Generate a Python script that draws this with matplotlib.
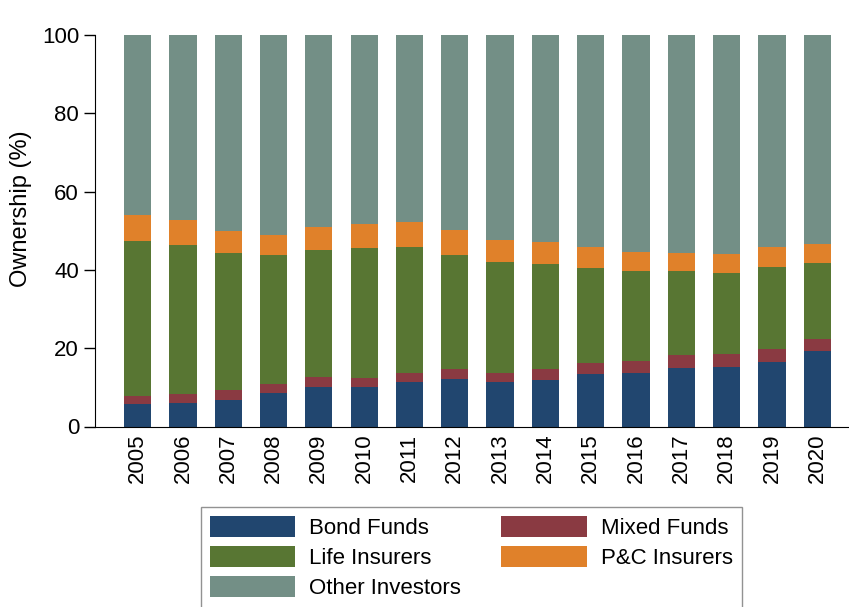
import numpy as np
import matplotlib.pyplot as plt

plt.rcParams['font.family'] = ['Liberation Sans', 'DejaVu Sans']

years = [str(y) for y in range(2005, 2021)]

bond_funds = np.array([5.7, 5.9, 6.8, 8.5, 10.2, 10.0, 11.3, 12.1, 11.4, 11.9, 13.3, 13.7, 15.0, 15.3, 16.5, 19.3])
mixed_top = np.array([7.9, 8.4, 9.3, 10.9, 12.7, 12.5, 13.7, 14.7, 13.7, 14.7, 16.3, 16.8, 18.2, 18.5, 19.8, 22.4])
life_top = np.array([47.5, 46.4, 44.3, 43.7, 45.0, 45.5, 45.8, 43.8, 41.9, 41.5, 40.5, 39.7, 39.7, 39.2, 40.8, 41.8])
pc_top = np.array([53.9, 52.8, 49.9, 49.0, 51.0, 51.8, 52.2, 50.1, 47.6, 47.2, 45.9, 44.6, 44.3, 44.0, 45.9, 46.6])

mixed_funds = mixed_top - bond_funds
life_insurers = life_top - mixed_top
pc_insurers = pc_top - life_top
other_investors = 100 - pc_top

series = [
    ("Bond Funds", bond_funds, "#21466f"),
    ("Mixed Funds", mixed_funds, "#8a3a42"),
    ("Life Insurers", life_insurers, "#587633"),
    ("P&C Insurers", pc_insurers, "#e0812a"),
    ("Other Investors", other_investors, "#738f86"),
]

fig = plt.figure(figsize=(8.49, 6.07), dpi=100)
ax = fig.add_axes([95 / 849, 1 - 426.5 / 607, 1 - 95 / 849, (426.5 - 35) / 607])

x = np.arange(len(years))
bottom = np.zeros(len(years))
handles = {}
for name, vals, col in series:
    b = ax.bar(x, vals, 0.6, bottom=bottom, color=col, label=name)
    handles[name] = b
    bottom = bottom + vals

ax.set_xlim(-0.94, 15.7)
ax.set_ylim(0, 100)
ax.set_yticks([0, 20, 40, 60, 80, 100])
ax.set_xticks(x)
ax.set_xticklabels(years, rotation=90)
ax.tick_params(axis='both', labelsize=16, length=8, width=1, direction='out')
ax.tick_params(axis='x', length=0, pad=5)
for s in ['top', 'right']:
    ax.spines[s].set_visible(False)
ax.set_ylabel("Ownership (%)", fontsize=17)
ax.yaxis.set_label_coords(-(95 - 32) / 754, 0.557)

order = ["Bond Funds", "Life Insurers", "Other Investors", "Mixed Funds", "P&C Insurers"]
leg = fig.legend([handles[n] for n in order], order, ncol=2,
                 loc='upper left', bbox_to_anchor=(201 / 849, 1 - 507 / 607),
                 fontsize=16, handlelength=3.85, handleheight=1.05,
                 handletextpad=0.63, columnspacing=1.8, labelspacing=0.33,
                 fancybox=False, edgecolor='#777777', borderaxespad=0,
                 borderpad=0.4)
leg.get_frame().set_linewidth(1)

fig.savefig("out.png", dpi=100)
